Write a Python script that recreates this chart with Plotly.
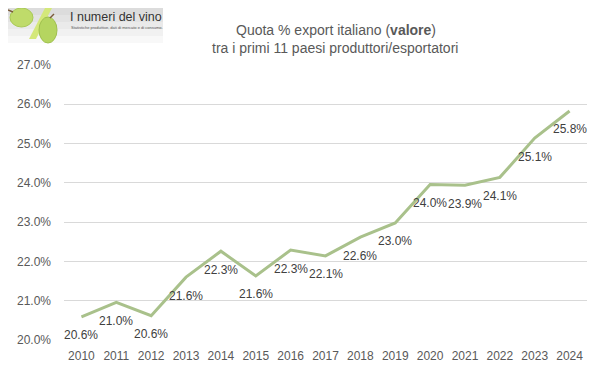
import plotly.graph_objects as go

years = ["2010", "2011", "2012", "2013", "2014", "2015", "2016", "2017",
         "2018", "2019", "2020", "2021", "2022", "2023", "2024"]
quota = [20.59, 20.96, 20.62, 21.60, 22.26, 21.63, 22.29, 22.14,
         22.62, 22.98, 23.96, 23.94, 24.14, 25.14, 25.83]
y_ticks = [20, 21, 22, 23, 24, 25, 26, 27]
y_tick_labels = [f"{v:.1f}%" for v in y_ticks]

title_line1 = "Quota % export italiano (<b>valore</b>)"
title_line2 = "tra i primi 11 paesi produttori/esportatori"

# page is offset by body margin of 8px
OFF = 8
W, H = 601 - 2 * OFF, 378 - 2 * OFF
# plot area in page coordinates
PL, PR, PT, PB = 64, 587, 65, 340
L, R, T, B = PL - OFF, W - (PR - OFF), PT - OFF, H - (PB - OFF)
pw, ph = W - L - R, H - T - B


def px(x):
    return (x - OFF - L) / pw


def py(y):
    return (H - (y - OFF) - B) / ph


idx = list(range(len(years)))

fig = go.Figure()
fig.add_trace(go.Scatter(
    x=idx, y=quota, mode="lines",
    line=dict(color="#A9C18B", width=3),
    hoverinfo="skip", showlegend=False,
))

annotations = []
for i, v in zip(idx, quota):
    annotations.append(dict(
        x=i, y=v, xref="x", yref="y", text=f"{v:.1f}%", showarrow=False,
        yshift=-18.5, font=dict(family="Liberation Sans, Arial", size=12, color="#404040"),
    ))

title_font = dict(family="Liberation Sans Narrow, Arial Narrow, Liberation Sans",
                  size=14, color="#595959")
annotations.append(dict(
    x=px(336), y=py(30), xref="paper", yref="paper", yanchor="middle",
    text=title_line1, showarrow=False, font=title_font,
))
annotations.append(dict(
    x=px(335), y=py(48), xref="paper", yref="paper", yanchor="middle",
    text=title_line2, showarrow=False, font=title_font,
))

annotations.append(dict(
    x=px(68), y=py(17), xref="paper", yref="paper", xanchor="left", yanchor="middle",
    text="I numeri del vino", showarrow=False,
    font=dict(family="Liberation Sans, Arial", size=12.5, color="#333333"),
))
annotations.append(dict(
    x=px(69), y=py(27), xref="paper", yref="paper", xanchor="left", yanchor="middle",
    text="Statistiche produttive, dati di mercato e di consumo.", showarrow=False,
    font=dict(family="Liberation Sans, Arial", size=4, color="#555555"),
))

shapes = []
for i, col in enumerate(["#dcdcdc", "#e3e3e3", "#eaeaea", "#f1f1f1", "#f8f8f8"]):
    shapes.append(dict(type="rect", xref="paper", yref="paper",
                       x0=px(OFF), x1=px(163), y0=py(OFF + 7 * i), y1=py(OFF + 7 * (i + 1)),
                       fillcolor=col, line=dict(width=0), layer="below"))
shapes.append(dict(type="path", xref="paper", yref="paper",
                   path=(f"M {px(45)},{py(OFF)} L {px(52)},{py(OFF)} "
                         f"L {px(36)},{py(39)} L {px(29)},{py(39)} Z"),
                   fillcolor="#D4E87A", line=dict(width=0)))
shapes.append(dict(type="circle", xref="paper", yref="paper",
                   x0=px(10), x1=px(33), y0=py(OFF), y1=py(27),
                   fillcolor="#BFDB6A", line=dict(color="#A9C956", width=1)))
shapes.append(dict(type="circle", xref="paper", yref="paper",
                   x0=px(39), x1=px(57), y0=py(17), y1=py(43),
                   fillcolor="#B5D560", line=dict(color="#9FC04E", width=1)))
shapes.append(dict(type="line", xref="paper", yref="paper",
                   x0=px(OFF), x1=px(13), y0=py(10), y1=py(12),
                   line=dict(color="#7a5a3a", width=1.5)))
shapes.append(dict(type="line", xref="paper", yref="paper",
                   x0=px(50), x1=px(54), y0=py(18), y1=py(14),
                   line=dict(color="#7a5a3a", width=1.5)))

fig.update_layout(
    width=W, height=H,
    margin=dict(l=L, r=R, t=T, b=B),
    paper_bgcolor="white", plot_bgcolor="white",
    annotations=annotations, shapes=shapes,
    xaxis=dict(range=[-0.5, 14.5], tickvals=idx, ticktext=years, showgrid=False,
               showline=False, zeroline=False, ticks="",
               tickfont=dict(family="Liberation Sans, Arial", size=12, color="#595959"),
               ticklabelstandoff=7),
    yaxis=dict(range=[20, 27], tickvals=y_ticks, ticktext=y_tick_labels,
               showgrid=True, gridcolor="#D9D9D9", gridwidth=1,
               zeroline=False, showline=False, ticks="",
               tickfont=dict(family="Liberation Sans, Arial", size=12, color="#595959"),
               ticklabelstandoff=12),
)

fig.write_html("out.html")
